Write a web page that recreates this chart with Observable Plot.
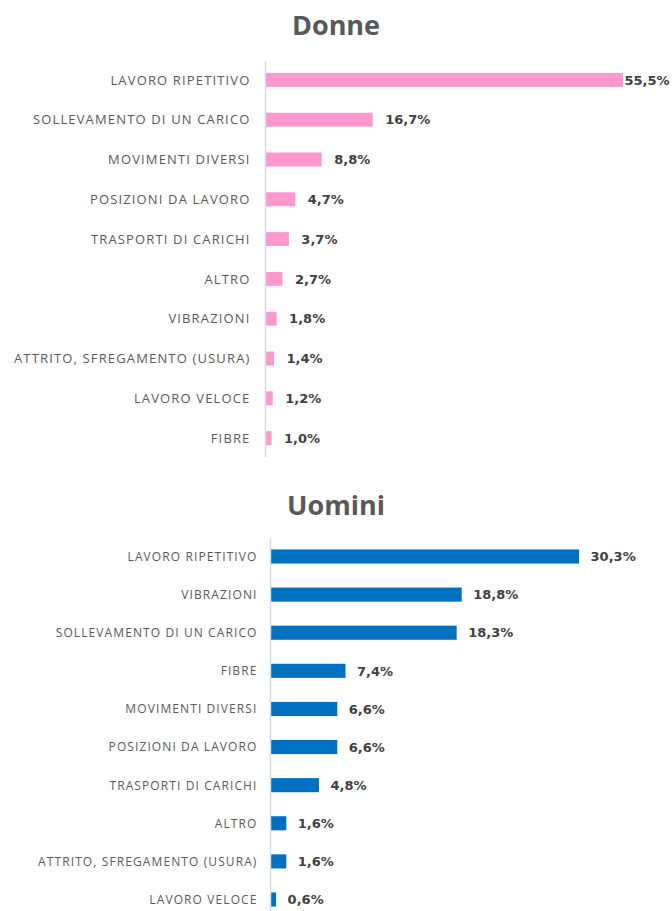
<!DOCTYPE html>
<html>
<head>
<meta charset="utf-8">
<script src="https://cdn.jsdelivr.net/npm/d3@7"></script>
<script src="https://cdn.jsdelivr.net/npm/@observablehq/plot@0.6"></script>
<style>
  html, body { margin: 0; padding: 0; background: #fff; overflow: hidden; }
  body { width: 672px; height: 911px; position: relative; font-family: "Open Sans", sans-serif; }
  .title { position: absolute; left: 0; width: 672px; text-align: center; font-weight: bold; font-size: 27px; color: #595959; font-family: "Open Sans", sans-serif; }
  .chart { position: absolute; left: 0; }
  .chart svg { overflow: visible; }
  #donne g[aria-label="y-axis tick label"] text { letter-spacing: 1.15px; }
  #uomini g[aria-label="y-axis tick label"] text { letter-spacing: 1.1px; }
</style>
</head>
<body>
<div class="title" style="top:7px;line-height:36px">Donne</div>
<div class="chart" id="donne" style="top:50px"></div>
<div class="title" style="top:487px;line-height:36px">Uomini</div>
<div class="chart" id="uomini" style="top:538px"></div>
<script>
const donneCategories = ["LAVORO RIPETITIVO", "SOLLEVAMENTO DI UN CARICO", "MOVIMENTI DIVERSI", "POSIZIONI DA LAVORO", "TRASPORTI DI CARICHI", "ALTRO", "VIBRAZIONI", "ATTRITO, SFREGAMENTO (USURA)", "LAVORO VELOCE", "FIBRE"];
const donneValues = [55.5, 16.7, 8.8, 4.7, 3.7, 2.7, 1.8, 1.4, 1.2, 1.0];
const uominiCategories = ["LAVORO RIPETITIVO", "VIBRAZIONI", "SOLLEVAMENTO DI UN CARICO", "FIBRE", "MOVIMENTI DIVERSI", "POSIZIONI DA LAVORO", "TRASPORTI DI CARICHI", "ALTRO", "ATTRITO, SFREGAMENTO (USURA)", "LAVORO VELOCE"];
const uominiValues = [30.3, 18.8, 18.3, 7.4, 6.6, 6.6, 4.8, 1.6, 1.6, 0.6];

const fmt = v => d3.format(".1f")(v).replace(".", ",") + "%";

function chart(cats, vals, opts) {
  const data = cats.map((c, i) => ({c, v: vals[i]}));
  return Plot.plot({
    width: 672,
    height: opts.height,
    marginLeft: opts.marginLeft,
    marginRight: opts.marginRight,
    marginTop: opts.marginTop,
    marginBottom: opts.marginBottom,
    style: {fontFamily: "'Open Sans', sans-serif", background: "#fff"},
    x: {domain: [0, opts.xmax], axis: null},
    y: {domain: cats, paddingInner: opts.pi, paddingOuter: 0.3, round: false, label: null},
    marks: [
      Plot.axisY({tickSize: 0, tickPadding: opts.tickPadding, fontSize: opts.labelSize, fill: "#595959", label: null}),
      Plot.barX(data, {x: "v", y: "c", fill: opts.color}),
      Plot.ruleX([0], {stroke: "#d9d9d9", strokeWidth: 1.5}),
      Plot.text(data.filter(d => d.v <= 50), {x: "v", y: "c", text: d => fmt(d.v), dx: opts.dx, textAnchor: "start", fontWeight: "bold", fontSize: 13, fontFamily: "'DejaVu Sans', sans-serif", fill: "#404040"}),
      Plot.text(data.filter(d => d.v > 50), {x: "v", y: "c", text: d => fmt(d.v), dx: 1, textAnchor: "start", fontWeight: "bold", fontSize: 13, fontFamily: "'DejaVu Sans', sans-serif", fill: "#404040"})
    ]
  });
}

document.getElementById("donne").append(chart(donneCategories, donneValues, {
  height: 420, marginLeft: 265, marginRight: 20, marginTop: 11, marginBottom: 13,
  xmax: 60, pi: 0.65, color: "#ff99cc", dx: 12, tickPadding: 15, labelSize: 13
}));
document.getElementById("uomini").append(chart(uominiCategories, uominiValues, {
  height: 380, marginLeft: 270, marginRight: 45, marginTop: 0, marginBottom: 0,
  xmax: 35, pi: 0.63, color: "#0070c0", dx: 11, tickPadding: 13, labelSize: 12
}));
</script>
</body>
</html>
